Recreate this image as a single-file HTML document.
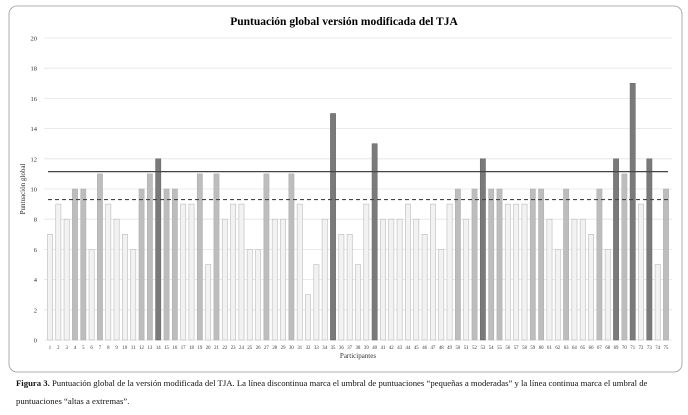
<!DOCTYPE html>
<html><head><meta charset="utf-8"><style>
html,body{margin:0;padding:0;background:#fff;width:688px;height:415px;overflow:hidden}
svg{display:block}
.cap{position:absolute;left:16px;top:374px;width:668px;font:8.7px/18px "Liberation Serif",serif;color:#111}
</style></head><body>
<svg id="chart" width="688" height="415">
<rect x="9" y="6" width="673" height="366" rx="8" fill="#fff" stroke="#999" stroke-width="0.8"/>
<text x="344" y="25" text-anchor="middle" font-family="Liberation Serif,serif" font-weight="bold" font-size="11.5">Puntuación global versión modificada del TJA</text>
<text transform="translate(25,189) rotate(-90)" text-anchor="middle" font-family="Liberation Serif,serif" font-size="7" fill="#333">Puntuación global</text>
<text x="358" y="358" text-anchor="middle" font-family="Liberation Serif,serif" font-size="7" fill="#333">Participantes</text>
<g id="g"></g>
</svg>
<div class="cap"><b>Figura 3.</b> Puntuación global de la versión modificada del TJA. La línea discontinua marca el umbral de puntuaciones “pequeñas a moderadas” y la línea continua marca el umbral de puntuaciones “altas a extremas”.</div>
<script>
const participants = Array.from({length:75},(_,i)=>String(i+1));
const scores = [7,9,8,10,10,6,11,9,8,7,6,10,11,12,10,10,9,9,11,5,11,8,9,9,6,6,11,8,8,11,9,3,5,8,15,7,7,5,9,13,8,8,8,9,8,7,9,6,9,10,8,10,12,10,10,9,9,9,10,10,8,6,10,8,8,7,10,6,12,11,17,9,12,5,10];
const yTicks = [0,2,4,6,8,10,12,14,16,18,20];
const dashedThreshold = [9.3];
const solidThreshold = [11.15];
const NS='http://www.w3.org/2000/svg', g=document.getElementById('g');
const y=v=>340-v*15.1;
const x=i=>50+i*(616/74);
function el(t,a){const e=document.createElementNS(NS,t);for(const k in a)e.setAttribute(k,a[k]);g.appendChild(e);return e;}
yTicks.forEach(t=>{
  const l=el('line',{x1:44,x2:672,y1:y(t),y2:y(t),stroke:'#e4e4e4','stroke-width':0.8});
  
  
  const tx=el('text',{x:37,y:y(t)+2.5,'text-anchor':'end','font-family':'Liberation Serif,serif','font-size':6.5,fill:'#333'});
  tx.textContent=t;
  
  
});
scores.forEach((v,i)=>{
  const fill=v>=12?'#7a7a7a':v>=10?'#bdbdbd':'#f2f2f2';
  const stroke=v>=12?'#6a6a6a':v>=10?'#b0b0b0':'#bbb';
  const r=el('rect',{x:x(i)-2.6,y:y(v),width:5.2,height:y(0)-y(v),fill:fill,stroke:stroke,'stroke-width':0.6});
  
  
  const tx=el('text',{x:x(i),y:349,'text-anchor':'middle','font-family':'Liberation Serif,serif','font-size':4.8,fill:'#333'});
  tx.textContent=participants[i];
  
  
});
const d=el('line',{x1:x(0)-2,x2:x(74)+2,y1:y(dashedThreshold[0]),y2:y(dashedThreshold[0]),stroke:'#444','stroke-width':1.2,'stroke-dasharray':'4,3'});


const s=el('line',{x1:x(0)-2,x2:x(74)+2,y1:y(solidThreshold[0]),y2:y(solidThreshold[0]),stroke:'#444','stroke-width':1.2});


</script>
</body></html>
